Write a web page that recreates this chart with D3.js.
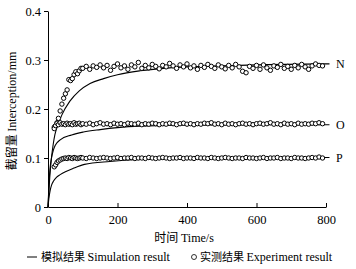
<!DOCTYPE html>
<html lang="zh">
<head>
<meta charset="UTF-8">
<script src="https://d3js.org/d3.v7.min.js"></script>
<style>
  body { margin: 0; background: #fff; }
  text { font-family: 'Liberation Serif', 'Times New Roman', serif; font-size: 12px; fill: #000; }
  .cjk { font-family: 'Noto Sans CJK SC', sans-serif; font-size: 11px; }
  .cjk12 { font-family: 'Noto Sans CJK SC', sans-serif; font-size: 12px; }
</style>
</head>
<body>
<script>
const width = 356, height = 269;

// tick labels
const xTicks = [0, 200, 400, 600, 800];
const yTicks = [0, 0.1, 0.2, 0.3, 0.4];

// simulation curves: [time, interception]
const simN = [[0,0],[5,0.06],[10,0.1],[15,0.128],[20,0.148],[30,0.17],[40,0.188],[63,0.216],[90,0.237],[121,0.252],[160,0.262],[200,0.27],[265,0.278],[350,0.284],[450,0.287],[600,0.29],[800,0.292]];
const simO = [[0,0],[3,0.05],[6,0.08],[10,0.1],[15,0.115],[21,0.126],[35,0.137],[68,0.147],[102,0.153],[150,0.158],[200,0.162],[265,0.165],[400,0.167],[600,0.168],[800,0.168]];
const simP = [[0,0],[3,0.02],[6,0.033],[10,0.044],[16,0.053],[25,0.061],[35,0.066],[50,0.072],[73,0.079],[105,0.087],[178,0.093],[265,0.097],[400,0.099],[550,0.1],[800,0.101]];

// measured points
const tExp = [18,22,26,30,35,40,45,50,55,60,65,70,75,80,85,90,95,
  100,110,120,130,140,150,160,170,180,190,200,210,220,230,240,250,260,270,280,290,
  300,310,320,330,340,350,360,370,380,390,400,410,420,430,440,450,460,470,480,490,
  500,510,520,530,540,550,560,570,580,590,600,610,620,630,640,650,660,670,680,690,
  700,710,720,730,740,750,760,770,780,790];
const expN = [0.163,0.166,0.172,0.181,0.196,0.21,0.222,0.231,0.239,0.26,0.258,0.262,0.27,0.276,0.272,0.278,0.283,
  0.283,0.287,0.281,0.288,0.285,0.29,0.284,0.289,0.279,0.287,0.292,0.284,0.288,0.281,0.29,0.286,0.295,0.283,0.289,0.284,
  0.291,0.287,0.282,0.289,0.286,0.293,0.288,0.283,0.29,0.286,0.292,0.284,0.288,0.281,0.289,0.285,0.291,0.287,0.283,0.29,
  0.286,0.282,0.289,0.284,0.291,0.286,0.277,0.274,0.287,0.283,0.289,0.281,0.29,0.284,0.279,0.288,0.285,0.291,0.283,0.287,
  0.281,0.289,0.284,0.291,0.286,0.281,0.288,0.292,0.289,0.288];
const expO = [0.16,0.166,0.171,0.168,0.172,0.169,0.17,0.168,0.171,0.169,0.17,0.168,0.172,0.169,0.17,0.171,0.168,
  0.17,0.169,0.171,0.168,0.17,0.172,0.169,0.17,0.168,0.171,0.169,0.17,0.168,0.171,0.17,0.169,0.171,0.168,0.17,0.169,
  0.171,0.17,0.168,0.17,0.169,0.171,0.17,0.168,0.17,0.171,0.169,0.17,0.168,0.17,0.169,0.171,0.17,0.172,0.169,0.17,
  0.168,0.171,0.169,0.17,0.168,0.17,0.171,0.169,0.17,0.168,0.17,0.171,0.169,0.17,0.172,0.169,0.17,0.168,0.171,0.169,
  0.17,0.168,0.171,0.169,0.17,0.169,0.171,0.17,0.172,0.17];
const expP = [0.082,0.086,0.091,0.094,0.096,0.098,0.099,0.1,0.099,0.101,0.1,0.099,0.101,0.1,0.099,0.1,0.101,
  0.1,0.099,0.101,0.1,0.099,0.1,0.101,0.1,0.099,0.1,0.101,0.099,0.1,0.1,0.101,0.099,0.1,0.1,0.099,0.101,
  0.1,0.099,0.1,0.101,0.1,0.099,0.1,0.1,0.101,0.099,0.1,0.1,0.099,0.101,0.1,0.1,0.099,0.101,0.1,0.099,
  0.1,0.101,0.1,0.099,0.1,0.1,0.099,0.101,0.1,0.1,0.099,0.1,0.101,0.099,0.1,0.1,0.101,0.099,0.1,0.1,
  0.099,0.101,0.1,0.1,0.099,0.1,0.101,0.1,0.102,0.1];

const seriesNames = ["N", "O", "P"];
const sims = [simN, simO, simP];
const exps = [expN, expO, expP];

const svg = d3.select("body").append("svg")
    .attr("width", width).attr("height", height);

const x = d3.scaleLinear().domain([0, 800]).range([48, 326]);
const y = d3.scaleLinear().domain([0, 0.4]).range([207, 11]);

// axes
svg.append("g").attr("transform", "translate(0,207)")
    .call(d3.axisBottom(x).tickValues(xTicks).tickSizeInner(-4).tickSizeOuter(0).tickPadding(8));
svg.append("g").attr("transform", "translate(48,0)")
    .call(d3.axisLeft(y).tickValues(yTicks).tickSizeInner(4).tickSizeOuter(0).tickPadding(3)
        .tickFormat(d => d === 0 ? "0" : d3.format(".1f")(d)));
svg.selectAll(".domain, .tick line").attr("stroke", "#000").attr("stroke-width", 1);
svg.selectAll(".tick text").style("font-family", "'Liberation Serif', serif").style("font-size", "12.5px").attr("fill", "#000");

// simulation lines
const line = d3.line().x(d => x(d[0])).y(d => y(d[1])).curve(d3.curveMonotoneX);
svg.selectAll(".sim").data(sims).join("path")
    .attr("class", "sim")
    .attr("d", d => line(d.concat([[810, d[d.length - 1][1]]])))
    .attr("fill", "none").attr("stroke", "#000").attr("stroke-width", 1.1);

// measured circles
exps.forEach(vals => {
  svg.append("g").selectAll("circle").data(vals).join("circle")
      .attr("cx", (d, i) => x(tExp[i]))
      .attr("cy", d => y(d))
      .attr("r", 2.2)
      .attr("fill", "#fff").attr("stroke", "#000").attr("stroke-width", 1);
});

// series labels
svg.selectAll(".lab").data(seriesNames).join("text")
    .attr("class", "lab")
    .attr("x", 336)
    .attr("y", (d, i) => y(sims[i][sims[i].length - 1][1]) + 4)
    .text(d => d);

// axis titles
const yt = svg.append("text")
    .attr("transform", "translate(16,111) rotate(-90)")
    .attr("text-anchor", "middle");
yt.append("tspan").attr("class", "cjk12").text("截留量 ");
yt.append("tspan").text("Interception/mm");

const xt = svg.append("text").attr("x", 184).attr("y", 242).attr("text-anchor", "middle");
xt.append("tspan").attr("class", "cjk12").text("时间 ");
xt.append("tspan").text("Time/s");

// legend
svg.append("line").attr("x1", 27).attr("x2", 37).attr("y1", 257).attr("y2", 257)
    .attr("stroke", "#000").attr("stroke-width", 1);
const l1 = svg.append("text").attr("x", 41).attr("y", 261);
l1.append("tspan").attr("class", "cjk").text("模拟结果 ");
l1.append("tspan").text("Simulation result");
svg.append("circle").attr("cx", 194).attr("cy", 257).attr("r", 2.5)
    .attr("fill", "#fff").attr("stroke", "#000").attr("stroke-width", 0.8);
const l2 = svg.append("text").attr("x", 200).attr("y", 261);
l2.append("tspan").attr("class", "cjk").text("实测结果 ");
l2.append("tspan").text("Experiment result");
</script>
</body>
</html>
